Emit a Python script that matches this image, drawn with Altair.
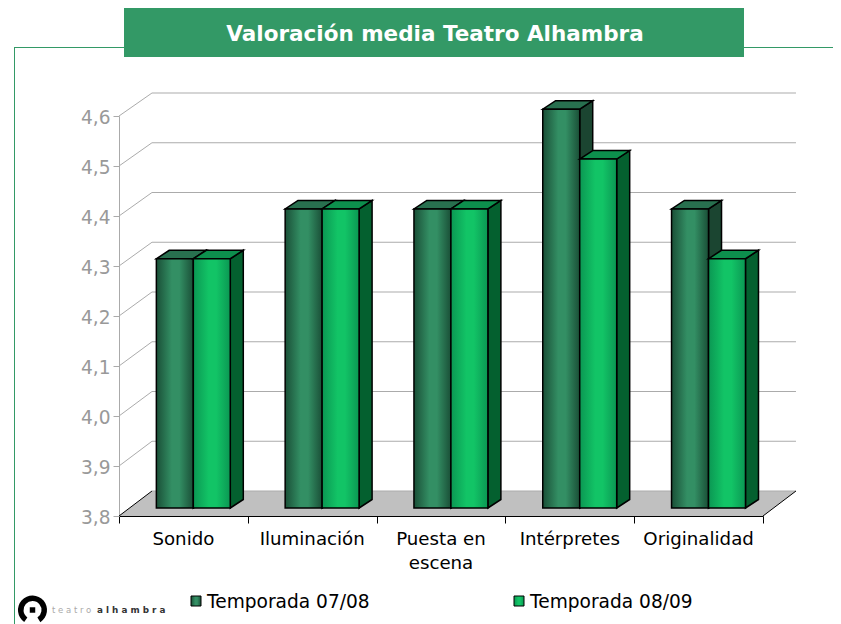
import altair as alt
import pandas as pd

title = "Valoración media Teatro Alhambra"
categories = ["Sonido", "Iluminación", "Puesta en\nescena", "Intérpretes", "Originalidad"]
series_names = ["Temporada 07/08", "Temporada 08/09"]
s1 = [4.3, 4.4, 4.4, 4.6, 4.4]
s2 = [4.3, 4.4, 4.4, 4.5, 4.3]
ticks = [3.8, 3.9, 4.0, 4.1, 4.2, 4.3, 4.4, 4.5, 4.6]
xticks = [0, 1, 2, 3, 4, 5]

# pseudo-3D projection, in scale units
WX, WY = 0.256, 0.05      # wall depth
BACK_K = 0.995            # slight foreshortening of the back wall
FY = 0.016                # bar front offset above front floor edge
BAR_K = 0.997             # foreshortening at the bars' depth
DX, DY = 0.101, 0.017     # bar depth
BW = 0.287
START = 0.29
BASE = 3.8


def back(t):
    return BASE + WY + (t - BASE) * BACK_K


def grad(edge, mid):
    return alt.LinearGradient(
        gradient="linear", x1=0, x2=1, y1=0, y2=0,
        stops=[alt.GradientStop(color=edge, offset=0),
               alt.GradientStop(color=mid, offset=0.42),
               alt.GradientStop(color=mid, offset=0.62),
               alt.GradientStop(color=edge, offset=1)])


xs = alt.Scale(domain=[0, 5], nice=False, zero=False)
ys = alt.Scale(domain=[3.8, 4.6], nice=False, zero=False)
AX = alt.Axis(values=xticks, title=None, grid=False, labels=False, tickSize=7,
              tickColor="#000000", domainColor="#000000")
AY = alt.Axis(values=ticks, title=None, grid=False, tickSize=6, tickColor="#aaaaaa", domainColor="#aaaaaa",
              labelColor="#999999", labelFontSize=18.6, labelFont="DejaVu Sans", labelPadding=3, labelOffset=1,
              labelExpr="replace(format(datum.value,'.1f'),'.',',')")
X = alt.X("x:Q", scale=xs, axis=AX)
Y = alt.Y("y:Q", scale=ys, axis=AY)

# floor
floor = alt.Chart(pd.DataFrame({"y": [BASE, back(BASE)], "x": [0, WX], "x2": [5, 5 + WX]})).mark_area(
    orient="horizontal", color="#c0c0c0").encode(y=Y, x=X, x2="x2:Q")

# back wall grid
grid = alt.Chart(pd.DataFrame({"y": [back(t) for t in ticks], "x": WX, "x2": 5 + WX})).mark_rule(
    color="#ababab", strokeWidth=1.2).encode(y=Y, x=X, x2="x2:Q")
diag_rows = []
for t in ticks[1:]:
    diag_rows += [{"t": t, "x": 0, "y": t}, {"t": t, "x": WX, "y": back(t)}]
diag = alt.Chart(pd.DataFrame(diag_rows)).mark_line(color="#ababab", strokeWidth=1).encode(x=X, y=Y, detail="t:N", order="x:Q")
edge_rows = [{"t": 0, "x": 0, "y": BASE}, {"t": 0, "x": WX, "y": back(BASE)},
             {"t": 1, "x": 5, "y": BASE}, {"t": 1, "x": 5 + WX, "y": back(BASE)}]
edges = alt.Chart(pd.DataFrame(edge_rows)).mark_line(color="#000000", strokeWidth=1).encode(x=X, y=Y, detail="t:N", order="x:Q")


def bar_layers(vals, offset, front, side_col, top_col):
    rows = [{"i": i, "v": v,
             "x": i + START + offset * BW, "x2": i + START + (offset + 1) * BW,
             "y": BASE + FY + (v - BASE) * BAR_K, "y0": BASE + FY} for i, v in enumerate(vals)]
    fr = alt.Chart(pd.DataFrame(rows)).mark_rect(fill=front, stroke="black", strokeWidth=1.5).encode(
        x=X, x2="x2:Q", y=Y, y2="y0:Q")
    sd, tp = [], []
    for r in rows:
        sd += [{"i": r["i"], "x": r["x2"], "y": r["y"], "y2": r["y0"]},
               {"i": r["i"], "x": r["x2"] + DX, "y": r["y"] + DY, "y2": r["y0"] + DY}]
        tp += [{"i": r["i"], "y": r["y"], "x": r["x"], "x2": r["x2"]},
               {"i": r["i"], "y": r["y"] + DY, "x": r["x"] + DX, "x2": r["x2"] + DX}]
    side = alt.Chart(pd.DataFrame(sd)).mark_area(orient="vertical", fill=side_col, stroke="black", strokeWidth=1.5).encode(
        x=X, y=Y, y2="y2:Q", detail="i:N")
    top = alt.Chart(pd.DataFrame(tp)).mark_area(orient="horizontal", fill=top_col, stroke="black", strokeWidth=1.5).encode(
        y=Y, x=X, x2="x2:Q", detail="i:N")
    return [side, top, fr]


GR1 = grad("#1a4f37", "#338f64")
GR2 = grad("#0b9753", "#12c466")
bars1 = bar_layers(s1, 0, GR1, "#1b4531", "#28704f")
bars2 = bar_layers(s2, 1, GR2, "#04602f", "#0d8f4d")

# category labels
cat = alt.Chart(pd.DataFrame({"c": categories, "x": [i + 0.5 for i in range(5)]})).mark_text(
    lineBreak="\n", font="DejaVu Sans", fontSize=18.2, color="#000000", baseline="top", lineHeight=24).encode(
    x=X, y=alt.value(415), text="c:N")

# chrome
none = pd.DataFrame({"a": [0]})
frame_v = alt.Chart(none).mark_rule(color="#339966", strokeWidth=1).encode(
    x=alt.value(-104.5), y=alt.value(-68.5), y2=alt.value(508))
frame_h1 = alt.Chart(none).mark_rule(color="#339966", strokeWidth=1).encode(
    x=alt.value(-105), x2=alt.value(5), y=alt.value(-68.5))
frame_h2 = alt.Chart(none).mark_rule(color="#339966", strokeWidth=1).encode(
    x=alt.value(625), x2=alt.value(714), y=alt.value(-68.5))
band = alt.Chart(none).mark_rect(color="#339966").encode(
    x=alt.value(5), x2=alt.value(625), y=alt.value(-108), y2=alt.value(-59))
ttl = alt.Chart(pd.DataFrame({"t": [title]})).mark_text(
    font="DejaVu Sans", fontWeight="bold", fontSize=21.5, color="white").encode(
    x=alt.value(316), y=alt.value(-81.5), text="t:N")

# legend
leg1 = alt.Chart(pd.DataFrame({"t": series_names[:1]})).mark_text(
    font="DejaVu Sans", fontSize=18.6, color="#000000", align="left").encode(
    x=alt.value(88), y=alt.value(486), text="t:N")
leg2 = alt.Chart(pd.DataFrame({"t": series_names[1:]})).mark_text(
    font="DejaVu Sans", fontSize=18.6, color="#000000", align="left").encode(
    x=alt.value(411), y=alt.value(486), text="t:N")
sw1 = alt.Chart(none).mark_rect(fill=GR1, stroke="black", strokeWidth=1).encode(
    x=alt.value(72), x2=alt.value(82), y=alt.value(480), y2=alt.value(490))
sw2 = alt.Chart(none).mark_rect(fill=GR2, stroke="black", strokeWidth=1).encode(
    x=alt.value(395), x2=alt.value(405), y=alt.value(480), y2=alt.value(490))

# logo
logo_arc = alt.Chart(none).mark_arc(color="black", radius=14.5, radius2=9, theta=3.75, theta2=8.85).encode(
    x=alt.value(-86.5), y=alt.value(494))
logo_dot = alt.Chart(none).mark_point(shape="square", filled=True, color="black", size=30, opacity=1).encode(
    x=alt.value(-86.5), y=alt.value(494))
logo_t1 = alt.Chart(pd.DataFrame({"t": ["t e a t r o"]})).mark_text(
    font="DejaVu Sans", fontSize=8.5, color="#aaaaaa", align="left").encode(x=alt.value(-67), y=alt.value(494), text="t:N")
logo_t2 = alt.Chart(pd.DataFrame({"t": ["a l h a m b r a"]})).mark_text(
    font="DejaVu Sans", fontWeight="bold", fontSize=8.8, color="#333333", align="left").encode(x=alt.value(-22), y=alt.value(494), text="t:N")

chart = alt.layer(
    floor, grid, diag, edges,
    *bars1, *bars2,
    cat, frame_v, frame_h1, frame_h2, band, ttl, sw1, sw2, leg1, leg2, logo_arc, logo_dot, logo_t1, logo_t2,
).properties(
    width=644, height=400,
    padding={"left": 111, "top": 108, "right": 70, "bottom": 108},
    autosize=alt.AutoSizeParams(type="none"),
).configure_view(stroke=None)

chart.save("out.html", embed_options={"renderer": "svg", "actions": False})
